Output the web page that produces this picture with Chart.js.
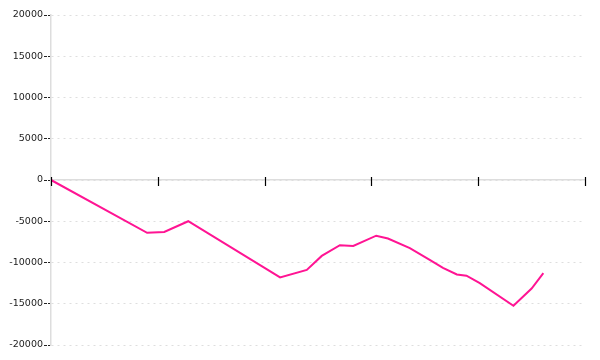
<!DOCTYPE html>
<html>
<head>
<meta charset="utf-8">
<script src="https://cdn.jsdelivr.net/npm/chart.js@4/dist/chart.umd.min.js"></script>
<style>
  body { margin: 0; background: #fff; }
  #wrap { width: 600px; height: 360px; }
</style>
</head>
<body>
<div id="wrap"><canvas id="mainChart"></canvas></div>
<script>
// values
const xValues = [0, 18, 21.2, 25.7, 42.9, 47.9, 50.7, 54.1, 56.6, 60.9, 63.1, 67.2, 71, 73.4, 76, 77.8, 80.3, 86.6, 90, 92.2];
const yValues = [0, -6400, -6300, -5000, -11800, -10900, -9200, -7900, -8000, -6750, -7100, -8250, -9700, -10650, -11450, -11600, -12500, -15250, -13150, -11300];
const yTicks = [-20000, -15000, -10000, -5000, 0, 5000, 10000, 15000, 20000];

const points = xValues.map((x, i) => ({x: x, y: yValues[i]}));

// black tick marks crossing the x axis line
const xTickMarks = {
    id: 'xTickMarks',
    afterDraw(chart) {
        const xs = chart.scales.x;
        const y0 = chart.scales.y.getPixelForValue(0);
        const ctx = chart.ctx;
        ctx.save();
        ctx.strokeStyle = '#000';
        ctx.lineWidth = 1.2;
        xs.ticks.forEach(t => {
            const px = Math.round(xs.getPixelForValue(t.value)) + 0.5;
            ctx.beginPath();
            ctx.moveTo(px, y0 - 3);
            ctx.lineTo(px, y0 + 6);
            ctx.stroke();
        });
        ctx.restore();
    }
};

new Chart(document.getElementById('mainChart'), {
    type: 'line',
    data: {
        datasets: [{
            data: points,
            borderColor: '#ff1493',
            borderWidth: 2,
            pointRadius: 0,
            tension: 0,
            fill: false
        }]
    },
    options: {
        responsive: true,
        maintainAspectRatio: false,
        animation: false,
        layout: { padding: { top: 15, right: 15, bottom: 15, left: 0 } },
        plugins: { legend: { display: false }, tooltip: { enabled: false } },
        scales: {
            x: {
                type: 'linear',
                position: { y: 0 },
                min: 0,
                max: 100,
                ticks: { display: false, stepSize: 20 },
                grid: { drawOnChartArea: false, drawTicks: false },
                border: { color: '#ddd', width: 1.5 }
            },
            y: {
                min: -20000,
                max: 20000,
                afterBuildTicks: (scale) => { scale.ticks = yTicks.map(v => ({value: v})); },
                afterFit: (scale) => { scale.width = 51; },
                ticks: {
                    padding: 1,
                    color: '#222',
                    font: { family: 'DejaVu Sans', size: 9.5 },
                    callback: (v) => String(v)
                },
                grid: {
                    color: '#dedede',
                    tickColor: '#222',
                    tickLength: 7,
                    tickBorderDash: [3, 1]
                },
                border: { color: '#ddd', width: 1.5, dash: [2, 4] }
            }
        }
    },
    plugins: [xTickMarks]
});
</script>
</body>
</html>
